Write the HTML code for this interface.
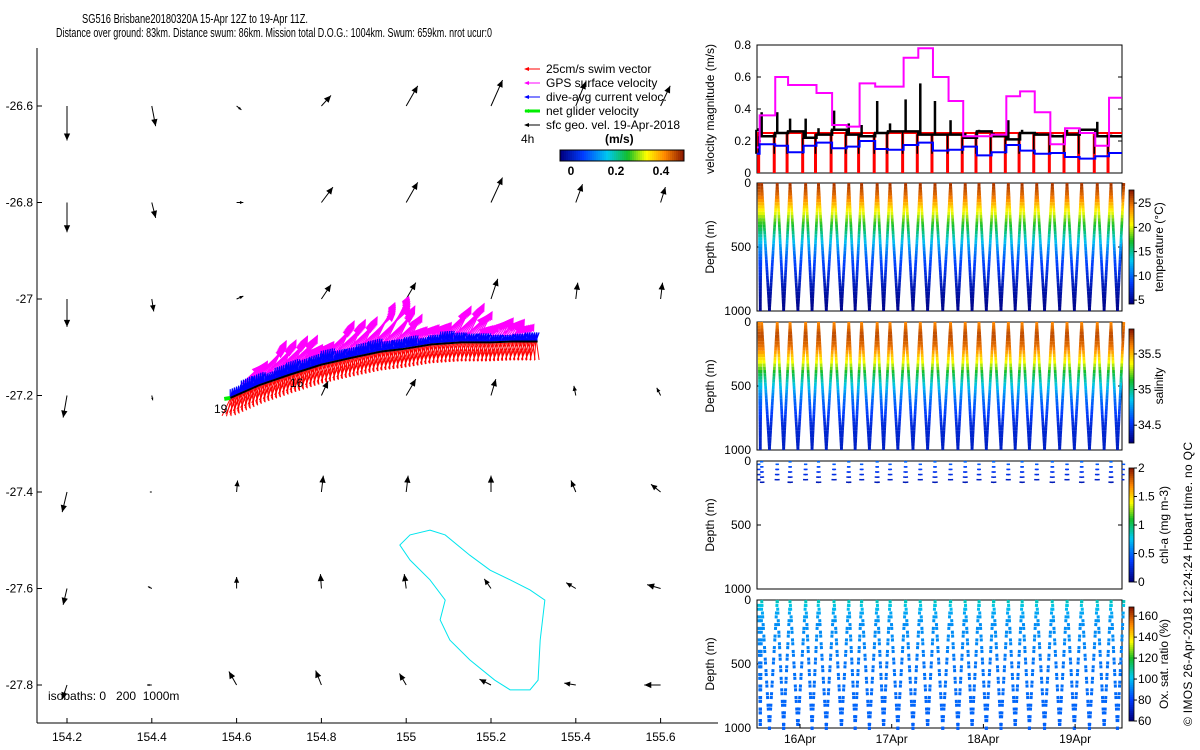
<!DOCTYPE html>
<html><head><meta charset="utf-8"><style>
html,body{margin:0;padding:0;background:#fff}
svg{display:block;font-family:"Liberation Sans",sans-serif}
</style></head><body>
<svg id="s" width="1200" height="750" viewBox="0 0 1200 750" xmlns="http://www.w3.org/2000/svg">
<text x="82" y="23" font-size="13" textLength="226" lengthAdjust="spacingAndGlyphs">SG516 Brisbane20180320A 15-Apr 12Z to 19-Apr 11Z.</text>
<text x="56" y="37" font-size="13" textLength="436" lengthAdjust="spacingAndGlyphs">Distance over ground: 83km. Distance swum: 86km. Mission total D.O.G.: 1004km. Swum: 659km. nrot ucur:0</text>
<g id="map"></g>
<g id="right"></g>
<text transform="translate(1192,726) rotate(-90)" font-size="12" textLength="284">© IMOS 26-Apr-2018 12:24:24 Hobart time. no QC</text>
</svg>
<script>
// ---------- data ----------
const lonTicks=[154.2,154.4,154.6,154.8,155,155.2,155.4,155.6];
const latTicks=[-26.6,-26.8,-27,-27.2,-27.4,-27.6,-27.8];
const geoU=[
[0,0.04,0.05,0.10,0.12,0.12,0.10,0.10],
[0,0.04,0.07,0.12,0.12,0.12,0.07,0.05],
[0,0.02,0.07,0.10,0.10,0.07,0.02,0.02],
[-0.04,0.01,0.05,0.07,0.10,0.05,-0.02,-0.04],
[-0.05,-0.02,0.01,0.02,0.02,0,-0.05,-0.10],
[-0.04,-0.04,0,-0.01,-0.02,-0.07,-0.10,-0.14],
[-0.05,-0.05,-0.08,-0.06,-0.07,-0.12,-0.12,-0.17]];
const geoV=[
[-0.36,-0.21,-0.04,0.11,0.21,0.27,0.25,0.21],
[-0.31,-0.16,0,0.16,0.21,0.26,0.19,0.16],
[-0.29,-0.13,0.03,0.15,0.17,0.21,0.17,0.17],
[-0.23,-0.05,0.08,0.15,0.17,0.17,0.10,0.08],
[-0.21,0,0.12,0.17,0.17,0.17,0.12,0.08],
[-0.17,0.02,0.12,0.15,0.15,0.10,0.06,0.04],
[-0.15,0,0.14,0.15,0.12,0.06,0.02,0]];
const trackLon=[154.585,154.655,154.725,154.8,154.87,154.94,154.99,155.06,155.13,155.2,155.25,155.31];
const trackLat=[-27.205,-27.178,-27.157,-27.136,-27.122,-27.109,-27.104,-27.094,-27.090,-27.090,-27.088,-27.088];
const isoLon=[155.056,155.092,155.150,155.198,155.245,155.292,155.327,155.316,155.311,155.292,155.245,155.209,155.150,155.103,155.080,155.092,155.056,155.009,154.985,155.009];
const isoLat=[-27.479,-27.489,-27.531,-27.562,-27.582,-27.603,-27.624,-27.707,-27.790,-27.810,-27.810,-27.790,-27.748,-27.707,-27.665,-27.624,-27.582,-27.541,-27.510,-27.489];
const diveT=[15.53,15.56,15.73,15.87,16.04,16.18,16.35,16.51,16.65,16.82,16.96,17.13,17.29,17.45,17.62,17.78,17.93,18.09,18.25,18.40,18.56,18.73,18.89,19.05,19.22,19.37,19.51];
const gpsVel=[0.16,0.36,0.60,0.55,0.55,0.50,0.30,0.29,0.56,0.54,0.54,0.72,0.78,0.60,0.45,0.23,0.23,0.24,0.48,0.51,0.38,0.18,0.28,0.25,0.17,0.47];
const curVel=[0.12,0.18,0.17,0.13,0.17,0.19,0.155,0.165,0.20,0.15,0.145,0.175,0.19,0.14,0.145,0.165,0.11,0.13,0.175,0.14,0.12,0.125,0.10,0.09,0.105,0.125];
const netVel=[0.27,0.23,0.25,0.26,0.22,0.24,0.27,0.24,0.23,0.25,0.26,0.26,0.24,0.24,0.24,0.22,0.26,0.23,0.21,0.25,0.24,0.23,0.24,0.27,0.23,0.23];
const netSpike=[0.28,0.38,0.38,0.34,0.34,0.28,0.39,0.31,0.30,0.45,0.31,0.46,0.56,0.45,0.33,0.25,0.27,0.25,0.33,0.27,0.25,0.24,0.27,0.27,0.32,0.24];
const swimVel=0.25;
const dayTicks=[16,17,18,19];
const depthLv=[0,100,200,300,400,500,600,700,800,900,1000];
const tempLv=[27,25,21.5,18,15,11.5,9,7.5,6,5,4.5];
const salLv=[35.6,35.75,35.65,35.4,35.1,34.85,34.65,34.55,34.45,34.42,34.4];
const oxyLv=[108,96,92,92,90,88,88,87,86,86,85];
const chlLv=[0.5,0.3,0.1,0,0,0,0,0,0,0,0];
// ---------- helpers ----------
const NS='http://www.w3.org/2000/svg';
function mk(p,t,a){const e=document.createElementNS(NS,t);for(const k in a)e.setAttribute(k,a[k]);p.appendChild(e);return e;}
function jet(f){f=Math.max(0,Math.min(1,f));const st=[[0,0,0,128],[0.18,0,60,255],[0.38,0,200,240],[0.55,20,190,40],[0.7,255,255,0],[0.85,255,136,0],[1,139,26,0]];
for(let i=1;i<st.length;i++){if(f<=st[i][0]){const a=st[i-1],b=st[i],r=(f-a[0])/(b[0]-a[0]);return`rgb(${Math.round(a[1]+r*(b[1]-a[1]))},${Math.round(a[2]+r*(b[2]-a[2]))},${Math.round(a[3]+r*(b[3]-a[3]))})`;}}return'rgb(139,26,0)';}
function interp(xs,ys,x){for(let i=1;i<xs.length;i++){if(x<=xs[i]){const r=(x-xs[i-1])/(xs[i]-xs[i-1]);return ys[i-1]+r*(ys[i]-ys[i-1]);}}return ys[ys.length-1];}
const X=lon=>67+(lon-154.2)*424, Y=lat=>106+(-26.6-lat)*482.5;
const VS=160;
function arrow(g,x,y,dx,dy,col,w,hs){
 const l=mk(g,'line',{x1:x,y1:y,x2:x+dx,y2:y+dy,stroke:col,'stroke-width':w});
 
 const L=Math.hypot(dx,dy);if(L<1)return;const ux=dx/L,uy=dy/L,h=Math.min(hs,L*0.5);
 const tx=x+dx,ty=y+dy;
 const p=mk(g,'polygon',{points:`${tx},${ty} ${tx-ux*h-uy*h*0.45},${ty-uy*h+ux*h*0.45} ${tx-ux*h+uy*h*0.45},${ty-uy*h-ux*h*0.45}`,fill:col});
 
}
// ---------- map ----------
const map=document.getElementById('map');
let e=mk(map,'line',{x1:37,y1:48,x2:37,y2:723,stroke:'#000','stroke-width':1});

e=mk(map,'line',{x1:37,y1:723,x2:718,y2:723,stroke:'#000','stroke-width':1});

lonTicks.forEach(v=>{const t=mk(map,'text',{x:X(v),y:741,'font-size':12,'text-anchor':'middle'});t.textContent=String(v);
 
 mk(map,'line',{x1:X(v),y1:723,x2:X(v),y2:718,stroke:'#000'});});
latTicks.forEach(v=>{const t=mk(map,'text',{x:33,y:Y(v)+4,'font-size':12,'text-anchor':'end'});t.textContent=String(v);
 
 mk(map,'line',{x1:37,y1:Y(v),x2:42,y2:Y(v),stroke:'#000'});});
e=mk(map,'polygon',{points:isoLon.map((l,i)=>X(l)+','+Y(isoLat[i])).join(' '),fill:'none',stroke:'#00e5ee','stroke-width':1});

const geo=mk(map,'g',{});
latTicks.forEach((la,r)=>lonTicks.forEach((lo,c)=>{arrow(geo,X(lo),Y(la),geoU[r][c]*VS*0.6,-geoV[r][c]*VS*0.6,'#000',1,7);}));
const tp=trackLon.map((l,i)=>[X(l),Y(trackLat[i])]);
let cum=[0];for(let i=1;i<tp.length;i++)cum.push(cum[i-1]+Math.hypot(tp[i][0]-tp[i-1][0],tp[i][1]-tp[i-1][1]));
const TL=cum[cum.length-1];
function at(s){const d=s*TL;for(let i=1;i<tp.length;i++){if(d<=cum[i]){const r=(d-cum[i-1])/(cum[i]-cum[i-1]);return[tp[i-1][0]+r*(tp[i][0]-tp[i-1][0]),tp[i-1][1]+r*(tp[i][1]-tp[i-1][1])];}}return tp[tp.length-1];}
const mag=mk(map,'g',{stroke:'#ff00ff','stroke-width':1});
const red=mk(map,'g',{stroke:'#ff0000','stroke-width':1});
const blue=mk(map,'g',{stroke:'#0000ff','stroke-width':1.2});
const nd=gpsVel.length;
for(let i=0;i<nd;i++){
 const s0=i/nd,s1=(i+1)/nd;
 if(i>0&&i<nd-1){const[px,py]=at((s0+s1)/2);const L=gpsVel[i]*VS*0.45;
  for(let k=0;k<7;k++){const a=0.75+k*0.06;arrow(mag,px-6+k*2.5,py-6,L*Math.cos(a),-L*Math.sin(a),'#ff00ff',1.2,7);}}
 for(let k=0;k<12;k++){const s=s0+(s1-s0)*k/12;const[px,py]=at(s);
  const a=(k%4)*0.2-0.35;
  mk(red,'line',{x1:px,y1:py+1,x2:px+swimVel*VS*0.45*Math.sin(a)-2,y2:py+1+swimVel*VS*0.45*Math.cos(a)});}
 for(let k=0;k<16;k++){const s=s0+(s1-s0)*k/16;const[px,py]=at(s);
  mk(blue,'line',{x1:px,y1:py-1,x2:px+(k%3)*1.5,y2:py-1-curVel[i]*VS*0.4});}
}
e=mk(map,'polyline',{points:tp.map(p=>p.join(',')).join(' '),fill:'none',stroke:'#000','stroke-width':2});

e=mk(map,'line',{x1:tp[0][0],y1:tp[0][1],x2:tp[0][0]-6,y2:tp[0][1]+1,stroke:'#00ee00','stroke-width':4});

[['19',214,413],['16',290,387]].forEach(([t,x,y])=>{const q=mk(map,'text',{x,y,'font-size':12});q.textContent=t;});
e=mk(map,'text',{x:48,y:700,'font-size':12});e.textContent='isobaths: 0   200  1000m';e.setAttribute('xml:space','preserve');e.style.whiteSpace='pre';
const leg=mk(map,'g',{});
[['25cm/s swim vector','#ff0000',1],['GPS surface velocity','#ff00ff',1],['dive-avg current veloc.','#0000ff',1],['net glider velocity','#00ee00',3],['sfc geo. vel. 19-Apr-2018','#000',1]].forEach(([t,c,w],i)=>{
 const y=69+i*14;const l=mk(leg,'line',{x1:525,y1:y,x2:540,y2:y,stroke:c,'stroke-width':w});
 
 mk(leg,'polygon',{points:`524,${y} 529,${y-2} 529,${y+2}`,fill:c});
 const q=mk(leg,'text',{x:546,y:y+4,'font-size':12});q.textContent=t;});
e=mk(map,'text',{x:521,y:143,'font-size':12});e.textContent='4h';
e=mk(map,'text',{x:605,y:143,'font-size':12,'font-weight':'bold'});e.textContent='(m/s)';
for(let k=0;k<62;k++){mk(map,'rect',{x:560+k*2,y:150,width:2.1,height:11,fill:jet(k/61)});}
e=mk(map,'rect',{x:560,y:150,width:124,height:11,fill:'none',stroke:'#000'});
[[0,571],[0.2,616],[0.4,661]].forEach(([v,x])=>{const q=mk(map,'text',{x,y:175,'font-size':12,'font-weight':'bold','text-anchor':'middle'});q.textContent=String(v);});
// ---------- right panels ----------
const R=document.getElementById('right');
const XL=757,XR=1122;const xT=t=>800+(t-16)*91.7;
function frame(top,bot,name,ticks,ylab){
 const g=mk(R,'g',{});
 mk(g,'rect',{x:XL,y:top,width:XR-XL,height:bot-top,fill:'none',stroke:'#000'});
 ticks.forEach(([lab,y])=>{const q=mk(g,'text',{x:751,y:y+4,'font-size':12,'text-anchor':'end'});q.textContent=lab;
  mk(g,'line',{x1:XL,y1:y,x2:XL+4,y2:y,stroke:'#000'});mk(g,'line',{x1:XR,y1:y,x2:XR-4,y2:y,stroke:'#000'});});
 const q=mk(g,'text',{transform:`translate(714,${(top+bot)/2}) rotate(-90)`,'font-size':12,'text-anchor':'middle'});q.textContent=ylab;
 return g;}
const vy=v=>173-v*160;
const gv=frame(45,173,'velocity-panel',[['0.8',45],['0.6',vy(0.6)],['0.4',vy(0.4)],['0.2',vy(0.2)],['0',173]],'velocity magnitude (m/s)');
function steps(vals){let p=[];vals.forEach((v,i)=>{p.push(xT(diveT[i])+','+vy(v));p.push(xT(diveT[i+1])+','+vy(v));});return p.join(' ');}
const redG=mk(gv,'g',{stroke:'#ff0000','stroke-width':3});
mk(redG,'line',{x1:XL,y1:vy(swimVel),x2:XR,y2:vy(swimVel),'stroke-width':2});
diveT.slice(1,-1).forEach(t=>{mk(redG,'line',{x1:xT(t)-1,y1:vy(swimVel),x2:xT(t)-1,y2:173});});
const blk=mk(gv,'g',{stroke:'#000','stroke-width':2.5,fill:'none'});
mk(blk,'polyline',{points:steps(netVel)});
netSpike.forEach((v,i)=>{const x=xT(diveT[i])+2;mk(blk,'line',{x1:x,y1:vy(netVel[i]),x2:x,y2:vy(v)});mk(blk,'line',{x1:x-3,y1:vy(netVel[i]),x2:x-3,y2:vy(0.12),'stroke-width':1.5});});
e=mk(gv,'polyline',{points:steps(gpsVel),fill:'none',stroke:'#ff00ff','stroke-width':2});
e=mk(gv,'polyline',{points:steps(curVel),fill:'none',stroke:'#0000ff','stroke-width':2});
function depthPanel(top,name,lv,vmin,vmax,cbTicks,cbLab,opts){
 const bot=top+128;const dy=d=>top+d/1000*128;
 const g=frame(top,bot,name,[['0',top],['500',top+64],['1000',bot]],'Depth (m)');
 const pts=mk(g,'g',{'stroke-width':opts.w,'stroke-linecap':'butt'});
 for(let i=0;i<diveT.length-1;i++){
  const x0=xT(diveT[i])+2,x1=xT(diveT[i+1])+2,xm=(x0+x1)/2;
  [[x0,xm],[x1,xm]].forEach(([xs,xb],li)=>{
   for(let d=0;d<opts.maxD;d+=opts.step){
    if(opts.skip&&((i*7+li*3+Math.round(d/opts.step))%opts.skip)===0)continue;
    const v=interp(depthLv,lv,d+opts.step/2);
    const f=(v-vmin)/(vmax-vmin);
    const xa=xs+(xb-xs)*d/1000,xb2=xs+(xb-xs)*(d+opts.step*opts.fill)/1000;
    mk(pts,'line',{x1:xa,y1:dy(d),x2:xb2,y2:dy(d+opts.step*opts.fill),stroke:jet(f)});
   }});
 }
 const cb=mk(g,'g',{});
 const ct=top+7,cbh=114;
 for(let k=0;k<57;k++){mk(cb,'rect',{x:1129,y:ct+cbh-(k+1)*2,width:5,height:2.1,fill:jet(k/56)});}
 mk(cb,'rect',{x:1129,y:ct,width:5,height:cbh,fill:'none',stroke:'#000','stroke-width':0.8});
 cbTicks.forEach(v=>{const y=ct+cbh-(v-vmin)/(vmax-vmin)*cbh;mk(cb,'line',{x1:1134,y1:y,x2:1137,y2:y,stroke:'#000'});
  const q=mk(cb,'text',{x:1138,y:y+4,'font-size':12});q.textContent=String(v);});
 const q=mk(cb,'text',{transform:`translate(${opts.tx},${ct+cbh/2}) rotate(-90)`,'font-size':12,'text-anchor':'middle'});q.textContent=cbLab;
}
depthPanel(183,'temperature-panel',tempLv,4.2,27.7,[5,10,15,20,25],'temperature (°C)',{maxD:1000,step:25,fill:1,w:2.7,tx:1163});
depthPanel(322,'salinity-panel',salLv,34.25,35.85,[34.5,35,35.5],'salinity',{maxD:1000,step:25,fill:1,w:2.7,tx:1163});
depthPanel(461,'chlorophyll-panel',chlLv,0,2,[0,0.5,1,1.5,2],'chl-a (mg m-3)',{maxD:180,step:20,fill:0.6,skip:2,w:3,tx:1168});
depthPanel(600,'oxygen-panel',oxyLv,60,168.7,[60,80,100,120,140,160],'Ox. sat. ratio (%)',{maxD:1000,step:30,fill:0.8,skip:3,w:3,tx:1168});
dayTicks.forEach(d=>{const x=xT(d);const q=mk(R,'text',{x,y:743,'font-size':12,'text-anchor':'middle'});q.textContent=d+'Apr';
 mk(R,'line',{x1:x,y1:728,x2:x,y2:724,stroke:'#000'});});
</script>
</body></html>
